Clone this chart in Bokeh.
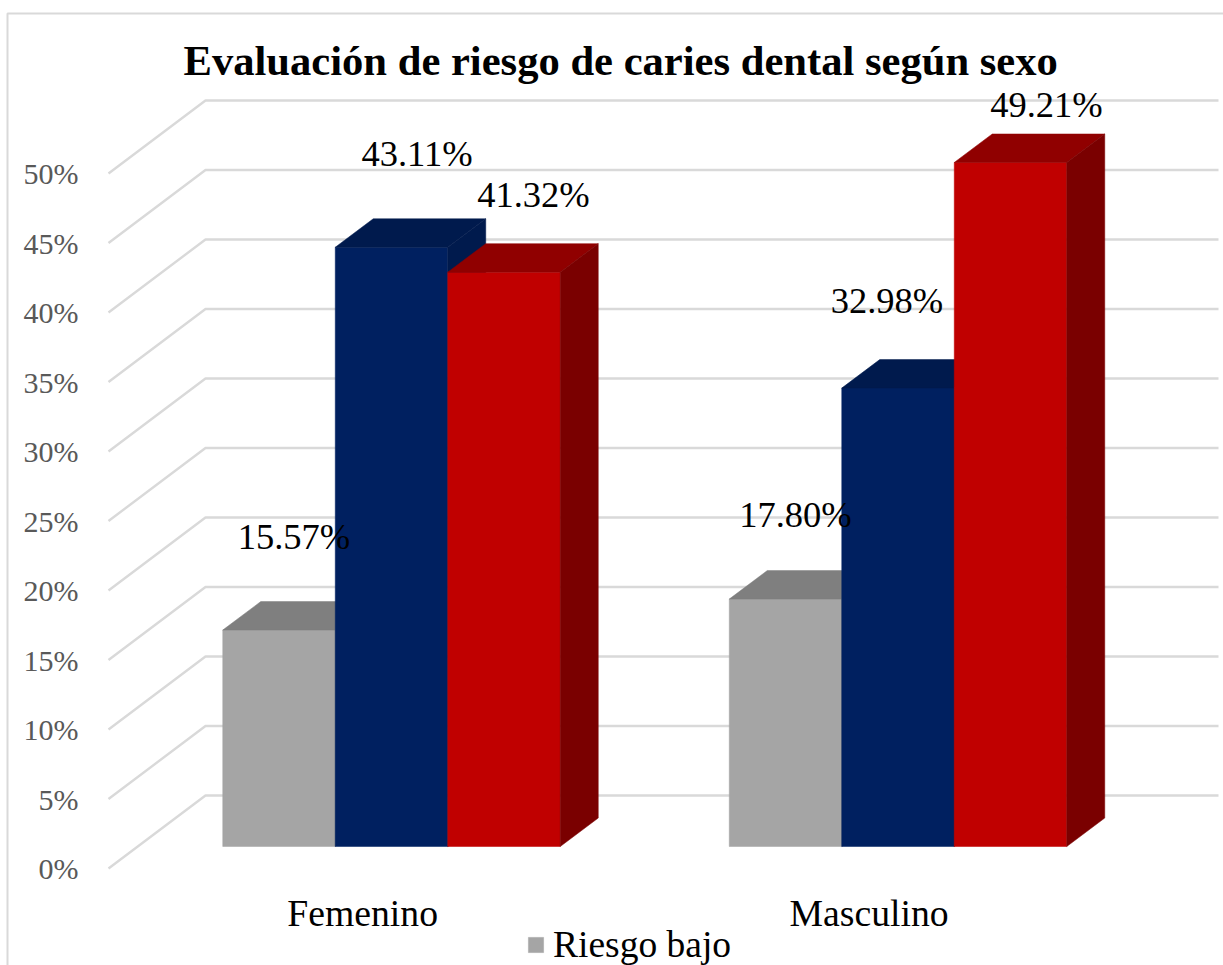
from bokeh.plotting import figure
from bokeh.embed import file_html
from bokeh.resources import INLINE
from bokeh.models import Range1d, FixedTicker, PrintfTickFormatter, Legend, LegendItem
from bokeh.core.properties import value

categories = ["Femenino", "Masculino"]
series_names = ["Riesgo bajo", "Riesgo moderado", "Riesgo alto"]
riesgo_bajo = [15.57, 17.80]
riesgo_moderado = [43.11, 32.98]
riesgo_alto = [41.32, 49.21]
y_ticks = [0, 5, 10, 15, 20, 25, 30, 35, 40, 45, 50]
title_text = "Evaluación de riesgo de caries dental según sexo"

SERIF = "Liberation Serif"
W, H = 1223, 965
PX_PER_PCT = 13.9
PX_PER_GROUP = 506.5
GROUP0_PX = 391.0
ZERO_PX = 868.0

def gx(px):
    return px / PX_PER_GROUP
def gy(px):
    return px / PX_PER_PCT
def X(px):
    return (px - GROUP0_PX) / PX_PER_GROUP
def Y(px):
    return (ZERO_PX - px) / PX_PER_PCT

p = figure(width=W, height=H, output_backend="svg", toolbar_location=None,
           x_range=Range1d(X(0), X(W)), y_range=Range1d(Y(H), Y(0)),
           min_border=0, min_border_left=0, min_border_right=0, min_border_top=0, min_border_bottom=0,
           styles={"position": "absolute", "left": "0", "top": "0"})
p.outline_line_color = None
p.grid.visible = False

# outer chart frame (only top and left edges are visible in the reference)
p.line(x=[X(7), X(7), X(W)], y=[Y(H), Y(13), Y(13)], line_color="#D9D9D9", line_width=2)

# title
p.text(x=[X(183)], y=[Y(60)], text=[title_text], text_align="left", text_baseline="middle",
       text_font=value(SERIF), text_font_size="42.6px", text_font_style="bold", text_color="#000000")

# Y axis
ya = p.yaxis[0]
ya.fixed_location = X(100)
ya.ticker = FixedTicker(ticks=y_ticks)
ya.formatter = PrintfTickFormatter(format="%d%%")
ya.axis_line_color = None
ya.major_tick_line_color = None
ya.minor_tick_line_color = None
ya.major_label_standoff = 16
ya.major_label_text_font = SERIF
ya.major_label_text_font_size = "30px"
ya.major_label_text_color = "#595959"

# X axis
LABEL_SHIFT = -0.057
xa = p.xaxis[0]
xa.fixed_location = Y(870)
ticks = [i + LABEL_SHIFT for i in range(len(categories))]
xa.ticker = FixedTicker(ticks=ticks)
xa.major_label_overrides = {t: c for t, c in zip(ticks, categories)}
xa.axis_line_color = None
xa.major_tick_line_color = None
xa.minor_tick_line_color = None
xa.major_label_standoff = 15
xa.major_label_text_font = SERIF
xa.major_label_text_font_size = "37.7px"
xa.major_label_text_color = "#000000"

# walls: slanted floor line plus back-wall line for each tick
WALL_LEFT = X(108)
WALL_BACK = X(205)
WALL_RIGHT = X(1218)
WALL_RISE = gy(73)
p.multi_line(xs=[[WALL_LEFT, WALL_BACK, WALL_RIGHT] for _ in y_ticks],
             ys=[[t, t + WALL_RISE, t + WALL_RISE] for t in y_ticks],
             line_color="#D9D9D9", line_width=2.4)

# 3-D columns
BAR_W = gx(112.5)
BASE = gy(ZERO_PX - 846)
DX = gx(38)
DY = gy(28.5)
styles = [("#A5A5A5", "#7F7F7F", "#7C7C7C"),
          ("#002060", "#001A4D", "#001A4D"),
          ("#C00000", "#900000", "#7A0000")]
all_series = [riesgo_bajo, riesgo_moderado, riesgo_alto]
first_render = None
for s, (vals, (front, top, side)) in enumerate(zip(all_series, styles)):
    lefts = [g + (s - 1.5) * BAR_W for g in range(len(categories))]
    rights = [l + BAR_W for l in lefts]
    tops = [BASE + v for v in vals]
    r = p.quad(left=lefts, right=rights, bottom=BASE, top=tops, fill_color=front, line_color=front, line_width=0.5)
    if s == 0:
        first_render = r
    p.patches(xs=[[l, l + DX, rr + DX, rr] for l, rr in zip(lefts, rights)],
              ys=[[t, t + DY, t + DY, t] for t in tops],
              fill_color=top, line_color=top, line_width=0.5)
    p.patches(xs=[[rr, rr + DX, rr + DX, rr] for rr in rights],
              ys=[[BASE, BASE + DY, t + DY, t] for t in tops],
              fill_color=side, line_color=side, line_width=0.5)

# data labels, placed individually like the reference
label_dx = [[15, 25.5, 29.5], [10, -11, 36]]
label_dy = [[-94, -94, -78], [-85, -88, -58]]
for g in range(len(categories)):
    for s, vals in enumerate(all_series):
        cx = g + (s - 1.5) * BAR_W + BAR_W / 2
        p.text(x=[cx], y=[BASE + vals[g]], text=["%.2f%%" % vals[g]],
               x_offset=label_dx[g][s], y_offset=label_dy[g][s],
               text_align="center", text_baseline="middle",
               text_font=value(SERIF), text_font_size="36.5px", text_color="#000000")

legend = Legend(items=[LegendItem(label=series_names[0], renderers=[first_render])],
                location=(526, -1), orientation="horizontal",
                border_line_color=None, background_fill_alpha=0,
                label_text_font=SERIF, label_text_font_size="37.5px", label_text_color="#000000",
                glyph_width=19, glyph_height=19, label_standoff=8, padding=0, margin=0, spacing=0)
p.add_layout(legend, "center")

open("out.html", "w").write(file_html(p, INLINE))
